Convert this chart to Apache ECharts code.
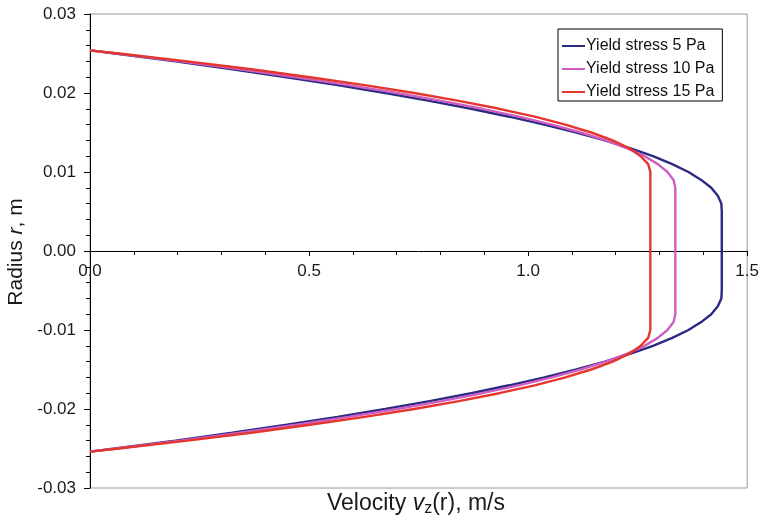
<!DOCTYPE html>
<html>
<head>
<meta charset="utf-8">
<script src="https://cdn.jsdelivr.net/npm/echarts@6/dist/echarts.min.js"></script>
<style>html,body{margin:0;padding:0;background:#fff}#c{width:762px;height:521px}</style>
</head>
<body>
<div id="c"></div>
<script>
// Radii (m) of the upper half of the profile; the profile is symmetric about r = 0
const radius = [0.0254, 0.025, 0.024, 0.023, 0.022, 0.021, 0.020, 0.019, 0.018, 0.017, 0.016, 0.015, 0.014, 0.013, 0.012, 0.011, 0.010, 0.009, 0.008, 0.007, 0.006, 0.005, 0.004, 0.002, 0.000];
// Velocity (m/s) at each radius
const vel5  = [0, 0.057, 0.195, 0.325, 0.449, 0.565, 0.674, 0.775, 0.870, 0.957, 1.037, 1.110, 1.175, 1.234, 1.285, 1.329, 1.366, 1.395, 1.418, 1.433, 1.441, 1.442, 1.442, 1.442, 1.442];
const vel10 = [0, 0.061, 0.206, 0.343, 0.471, 0.590, 0.701, 0.802, 0.895, 0.979, 1.054, 1.120, 1.177, 1.226, 1.266, 1.296, 1.318, 1.332, 1.336, 1.336, 1.336, 1.336, 1.336, 1.336, 1.336];
const vel15 = [0, 0.066, 0.222, 0.368, 0.502, 0.627, 0.740, 0.842, 0.934, 1.015, 1.085, 1.144, 1.193, 1.231, 1.257, 1.274, 1.279, 1.279, 1.279, 1.279, 1.279, 1.279, 1.279, 1.279, 1.279];
const seriesNames = ['Yield stress 5 Pa', 'Yield stress 10 Pa', 'Yield stress 15 Pa'];
const seriesColors = ['#2b2a82', '#cf5ec3', '#e5352c'];
const xTicks = { min: 0, max: 1.5, step: 0.5 };
const yTicks = { min: -0.03, max: 0.03, step: 0.01 };

function profile(vel) {
  const pts = [];
  for (let i = 0; i < radius.length; i++) pts.push([vel[i], radius[i]]);
  for (let i = radius.length - 2; i >= 0; i--) pts.push([vel[i], -radius[i]]);
  return pts;
}

const chart = echarts.init(document.getElementById('c'), null, { renderer: 'canvas' });
const font = 'Liberation Sans, Arial, Helvetica, sans-serif';
const vels = [vel5, vel10, vel15];
const gridTop = 14, gridBottom = 33, H = 521;
const plotH = H - gridTop - gridBottom;

chart.setOption({
  animation: false,
  backgroundColor: '#fff',
  textStyle: { fontFamily: font },
  grid: { left: 90, right: 14, top: gridTop, bottom: gridBottom, show: true, borderColor: '#9a9a9a', borderWidth: 1, containLabel: false },
  legend: {
    orient: 'vertical', left: 558, top: 29,
    borderColor: '#000', borderWidth: 1, padding: [8, 8, 0, 4],
    itemWidth: 23, itemHeight: 2, itemGap: 5, icon: 'rect',
    textStyle: { fontSize: 16, color: '#111', fontFamily: font, padding: [0, 0, 0, -4], lineHeight: 18 },
    data: seriesNames
  },
  xAxis: {
    type: 'value', min: xTicks.min, max: xTicks.max, interval: xTicks.step,
    position: 'bottom', offset: -plotH / 2,
    axisLine: { show: true, onZero: false, lineStyle: { color: '#000', width: 1 } },
    axisTick: { show: true, inside: false, length: 5, lineStyle: { color: '#000' } },
    minorTick: { show: true, splitNumber: 5, length: 4, lineStyle: { color: '#000' } },
    axisLabel: { fontSize: 17, color: '#1a1a1a', margin: 12, formatter: v => v.toFixed(1), fontFamily: font },
    splitLine: { show: false }
  },
  yAxis: {
    type: 'value', min: yTicks.min, max: yTicks.max, interval: yTicks.step,
    axisLine: { show: true, onZero: false, lineStyle: { color: '#000', width: 1 } },
    axisTick: { show: true, inside: false, length: 6, lineStyle: { color: '#000' } },
    minorTick: { show: true, splitNumber: 5, length: 4, lineStyle: { color: '#000' } },
    axisLabel: { fontSize: 17, color: '#1a1a1a', margin: 14, formatter: v => v.toFixed(2), fontFamily: font },
    splitLine: { show: false }
  },
  series: seriesNames.map((n, i) => ({
    name: n, type: 'line', data: profile(vels[i]),
    symbol: 'none', smooth: false,
    lineStyle: { color: seriesColors[i], width: 2.4 },
    itemStyle: { color: seriesColors[i] },
    z: 3 + i
  })),
  graphic: [
    {
      type: 'text', x: 327, y: 491,
      style: {
        text: '{n|Velocity }{i|v}{s|z}{n|(r), m/s}',
        rich: {
          n: { fontSize: 23, fontFamily: font, fill: '#1a1a1a' },
          i: { fontSize: 23, fontFamily: font, fontStyle: 'italic', fill: '#1a1a1a' },
          s: { fontSize: 16, fontFamily: font, fill: '#1a1a1a', padding: [10, 0, 0, 0] }
        }
      }
    },
    {
      type: 'text', x: 6, y: 252, rotation: Math.PI / 2,
      style: {
        text: '{n|Radius }{i|r}{n|, m}',
        align: 'center', verticalAlign: 'top',
        rich: {
          n: { fontSize: 21, fontFamily: font, fill: '#1a1a1a' },
          i: { fontSize: 21, fontFamily: font, fontStyle: 'italic', fill: '#1a1a1a' }
        }
      }
    }
  ]
});
</script>
</body>
</html>
